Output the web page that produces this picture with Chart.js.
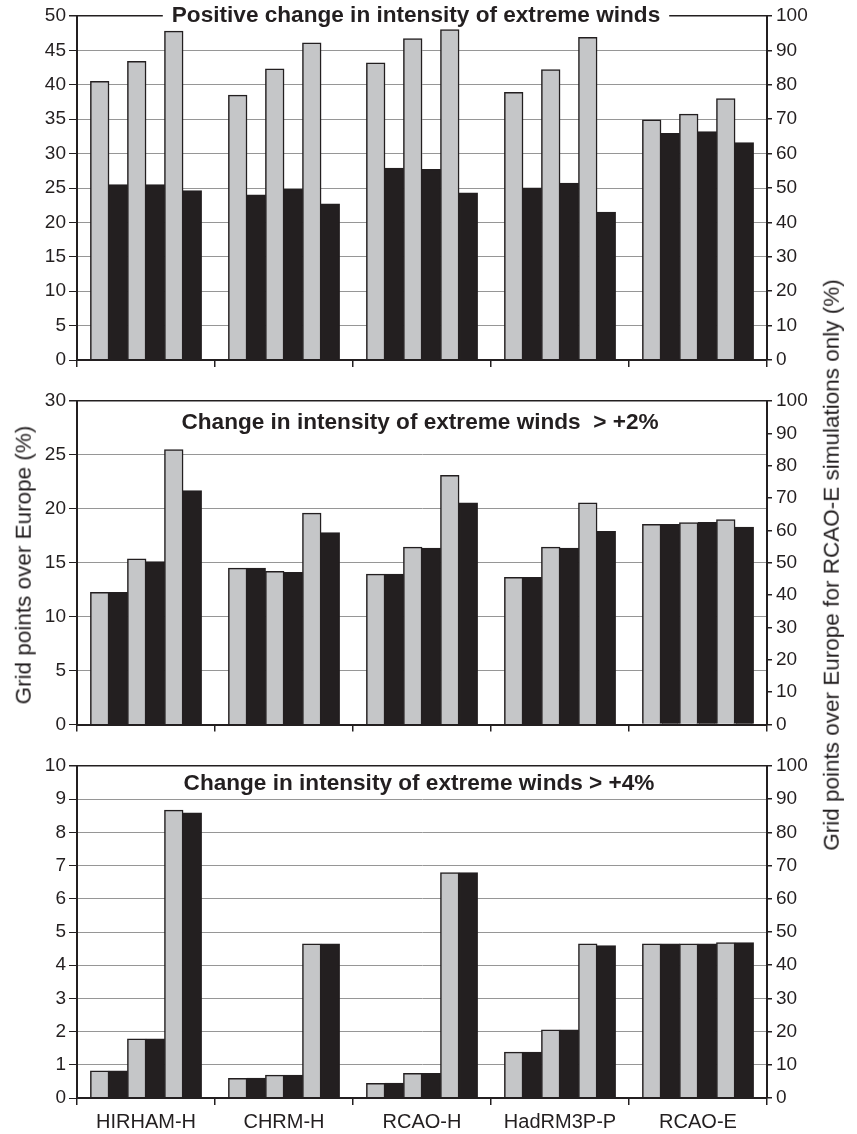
<!DOCTYPE html>
<html>
<head>
<meta charset="utf-8">
<script src="https://cdn.jsdelivr.net/npm/chart.js@4.4.1/dist/chart.umd.min.js"></script>
<style>
  html,body{margin:0;padding:0;background:#fff}
  #wrap{position:relative;width:857px;height:1134px;overflow:hidden;background:#fff}
  canvas{position:absolute;left:0}
  .ytitle{position:absolute;font-family:'Liberation Sans',Arial,Helvetica,sans-serif;font-size:22.5px;color:#231f20;
    white-space:nowrap;transform:translate(-50%,-50%) rotate(-90deg);line-height:1}
</style>
</head>
<body>
<div id="wrap">
  <canvas id="cPos" width="857" height="380" style="top:0"></canvas>
  <canvas id="c2" width="857" height="360" style="top:380px"></canvas>
  <canvas id="c4" width="857" height="394" style="top:740px"></canvas>
  <div class="ytitle" style="left:24px;top:565px">Grid points over Europe (%)</div>
  <div class="ytitle" style="left:832px;top:565px">Grid points over Europe for RCAO-E simulations only (%)</div>
</div>
<script>
const FONT="'Liberation Sans', Arial, Helvetica, sans-serif";
const INK='#231f20', GREY='#c5c6c8', GRID='#969696';

const models=['HIRHAM-H','CHRM-H','RCAO-H','HadRM3P-P','RCAO-E'];

// six bars per model, grey/black alternating; H/P models read on left axis,
// RCAO-E read on the right axis (%)
const posLeft=[
  [40.5,25.5,43.4,25.5,47.8,24.6],
  [38.5,24.0,42.3,24.8,46.1,22.7],
  [43.2,27.9,46.7,27.7,48.0,24.3],
  [38.9,25.0,42.2,25.7,46.9,21.5]
];
const posRight=[69.8,65.9,71.5,66.4,76.0,63.2];

const gt2Left=[
  [12.25,12.25,15.35,15.1,25.5,21.7],
  [14.5,14.5,14.2,14.1,19.6,17.8],
  [13.95,13.95,16.45,16.35,23.1,20.55],
  [13.65,13.65,16.45,16.35,20.55,17.9]
];
const gt2Right=[61.9,61.9,62.4,62.5,63.3,61.0];

const gt4Left=[
  [0.82,0.82,1.78,1.78,8.67,8.59],
  [0.59,0.6,0.69,0.69,4.64,4.64],
  [0.44,0.45,0.74,0.74,6.79,6.79],
  [1.38,1.38,2.05,2.05,4.64,4.59]
];
const gt4Right=[46.4,46.4,46.4,46.4,46.8,46.8];

const panelTitle={
  id:'panelTitle',
  afterDraw(chart,args,o){
    if(!o.text)return;
    const {ctx,chartArea}=chart;
    ctx.save();
    ctx.font='bold 22.6px '+FONT;
    ctx.textAlign='center';ctx.textBaseline='alphabetic';
    const w=ctx.measureText(o.text).width;
    if(o.knockout){
      ctx.fillStyle='#fff';
      ctx.fillRect(o.x-w/2-9,chartArea.top-3,w+18,6);
    }
    ctx.fillStyle=INK;
    ctx.fillText(o.text,o.x,chartArea.top+o.dy);
    ctx.restore();
  }
};

function buildSets(left,right){
  const sets=[];
  for(let k=0;k<6;k++){
    const col=k%2===0?GREY:INK;
    sets.push({data:left.map(r=>r[k]).concat([null]),yAxisID:'y',
      backgroundColor:col,borderColor:INK,borderWidth:1.5,skipNull:true,inflateAmount:0.4,
      barPercentage:1,categoryPercentage:0.805});
  }
  for(let k=0;k<6;k++){
    const col=k%2===0?GREY:INK;
    sets.push({data:[null,null,null,null,right[k]],yAxisID:'y1',
      backgroundColor:col,borderColor:INK,borderWidth:1.5,skipNull:true,inflateAmount:0.4,
      barPercentage:1,categoryPercentage:0.805});
  }
  return sets;
}

function makePanel(id,left,right,cfg){
  const yMax=cfg.yMax;
  return new Chart(document.getElementById(id),{
    type:'bar',
    data:{labels:models,datasets:buildSets(left,right)},
    plugins:[panelTitle],
    options:{
      responsive:false,animation:false,
      layout:{padding:{top:cfg.padTop,left:0,right:0,bottom:0}},
      plugins:{legend:{display:false},tooltip:{enabled:false},
        panelTitle:{text:cfg.title,x:cfg.titleX,dy:cfg.titleDy,knockout:cfg.knockout}},
      scales:{
        x:{
          grid:{display:true,drawOnChartArea:false,drawTicks:true,tickLength:7,color:INK,lineWidth:1.5,offset:true},
          border:{display:true,color:INK,width:2,z:1},
          ticks:{display:cfg.showX,color:INK,font:{family:FONT,size:20},padding:5,maxRotation:0,autoSkip:false},
          afterFit:s=>{s.height=cfg.xH}
        },
        y:{
          position:'left',min:0,max:yMax,
          ticks:{stepSize:cfg.step,color:INK,font:{family:FONT,size:19},padding:3},
          grid:{color:c=>c.tick.value===yMax?INK:GRID,lineWidth:c=>c.tick.value===yMax?1.5:1,
            tickColor:INK,tickLength:8,drawTicks:true},
          border:{display:true,color:INK,width:2},
          afterFit:s=>{s.width=77}
        },
        y1:{
          position:'right',min:0,max:100,
          ticks:{stepSize:10,color:INK,font:{family:FONT,size:19},padding:4},
          grid:{drawOnChartArea:false,drawTicks:true,tickLength:5,color:INK,lineWidth:1.5},
          border:{display:true,color:INK,width:2},
          afterFit:s=>{s.width=90}
        }
      }
    }
  });
}

makePanel('cPos',posLeft,posRight,{yMax:50,step:5,padTop:16,xH:20,showX:false,
  title:'Positive change in intensity of extreme winds',titleX:416,titleDy:6,knockout:true});
makePanel('c2',gt2Left,gt2Right,{yMax:30,step:5,padTop:21,xH:14,showX:false,
  title:'Change in intensity of extreme winds  > +2%',titleX:420,titleDy:28,knockout:false});
makePanel('c4',gt4Left,gt4Right,{yMax:10,step:1,padTop:26,xH:36,showX:true,
  title:'Change in intensity of extreme winds > +4%',titleX:419,titleDy:24,knockout:false});
</script>
</body>
</html>
